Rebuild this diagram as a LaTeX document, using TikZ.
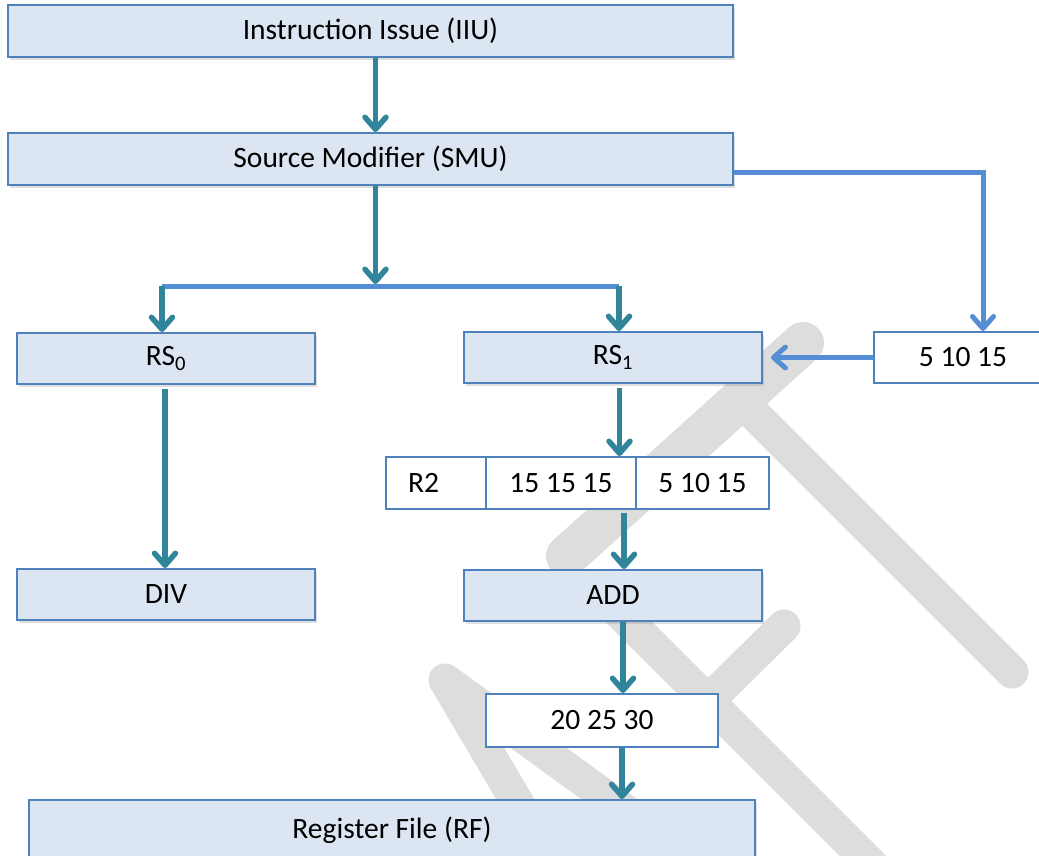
\documentclass[tikz,border=0pt]{standalone}
\usepackage{fontspec}
\setmainfont{Carlito}
\usetikzlibrary{arrows.meta,shadows}
\definecolor{boxfill}{RGB}{220,230,242}
\definecolor{boxline}{RGB}{79,129,189}
\definecolor{tealc}{RGB}{49,133,155}
\definecolor{bluec}{RGB}{85,142,213}
\definecolor{wmgray}{RGB}{221,221,221}
\begin{document}
\begin{tikzpicture}[x=1pt,y=-1pt,
  every node/.style={font=\fontsize{29.5}{35}\selectfont, inner sep=0pt},
  bluebox/.style={draw=boxline, line width=2pt, fill=boxfill, drop shadow={shadow xshift=2pt, shadow yshift=-3pt, opacity=0.25}},
  whitebox/.style={draw=boxline, line width=2pt, fill=white},
  tarrow/.style={draw=tealc, line width=5.5pt, -{Straight Barb[length=12pt,width=21pt,round]}},
  barrow/.style={draw=bluec, line width=5pt, -{Straight Barb[length=12pt,width=21pt,round]}},
  bline/.style={draw=bluec, line width=5pt},
  wm/.style={draw=wmgray, line width=33pt, line cap=round, line join=round}]
\useasboundingbox (0,0) rectangle (1039,855);
% watermark
\draw[wm, line width=42pt] (803,343) -- (567,556);
\draw[wm] (745,405) -- (1012,672);
\draw[wm] (615,608) -- (880,873);
\draw[wm] (784,626) -- (708,701);
\draw[wm] (563,880) -- (445,680) -- (700,865);
% boxes
\node[bluebox, minimum width=725pt, minimum height=52pt] (IIU) at (370.5,31) {Instruction Issue (IIU)};
\node[bluebox, minimum width=725pt, minimum height=52pt] (SMU) at (370.5,159) {Source Modifier (SMU)};
\node[bluebox, minimum width=298pt, minimum height=51pt] (RS0) at (166,358.5) {RS\textsubscript{0}};
\node[bluebox, minimum width=298pt, minimum height=51pt] (RS1) at (613,357.5) {RS\textsubscript{1}};
\node[whitebox, minimum width=178pt, minimum height=51pt] (V) at (963,357.5) {5 10 15};
\node[whitebox, minimum width=100pt, minimum height=52pt, text width=56pt, align=left, inner xsep=22pt] (cA) at (436,483) {R2};
\node[whitebox, minimum width=150pt, minimum height=52pt] (cB) at (561,483) {15 15 15};
\node[whitebox, minimum width=133pt, minimum height=52pt] (cC) at (702.5,483) {5 10 15};
\node[bluebox, minimum width=298pt, minimum height=51pt] (ADD) at (613,595.5) {ADD};
\node[bluebox, minimum width=298pt, minimum height=51pt] (DIV) at (166,594.5) {DIV};
\node[whitebox, minimum width=232pt, minimum height=53pt] (OUT) at (602,720.5) {20 25 30};
\node[bluebox, minimum width=726pt, minimum height=60pt] (RF) at (392,830) {Register File (RF)};
% connectors
\coordinate (split) at (375.5,284);
\coordinate (bl) at (162,286);
\coordinate (br) at (619,286);
\draw[tarrow] ([xshift=5pt]IIU.south) -- ([xshift=5pt]SMU.north);
\draw[tarrow] ([xshift=5pt]SMU.south) -- (split);
\draw[bline] (bl) -- (br);
\draw[tarrow] (bl) -- (bl |- RS0.north);
\draw[tarrow] (br) -- (br |- RS1.north);
\draw[tarrow, shorten <=4pt] ([xshift=-1pt]RS0.south) -- ([xshift=-1pt]DIV.north);
\draw[tarrow, shorten <=4pt] ([xshift=6.5pt]RS1.south) -- ([xshift=6.5pt]RS1.south |- cB.north);
\draw[tarrow, shorten <=3pt] ([xshift=11pt]ADD.north |- cB.south) -- ([xshift=11pt]ADD.north);
\draw[tarrow] ([xshift=10pt]ADD.south) -- ([xshift=10pt]ADD.south |- OUT.north);
\draw[tarrow] ([xshift=20pt]OUT.south) -- ([xshift=20pt]OUT.south |- RF.north);
\draw[barrow] ([yshift=-13pt]SMU.east) -| ([xshift=20pt]V.north);
\draw[barrow] (V.west) -- ([xshift=8pt]RS1.east);
\end{tikzpicture}
\end{document}
